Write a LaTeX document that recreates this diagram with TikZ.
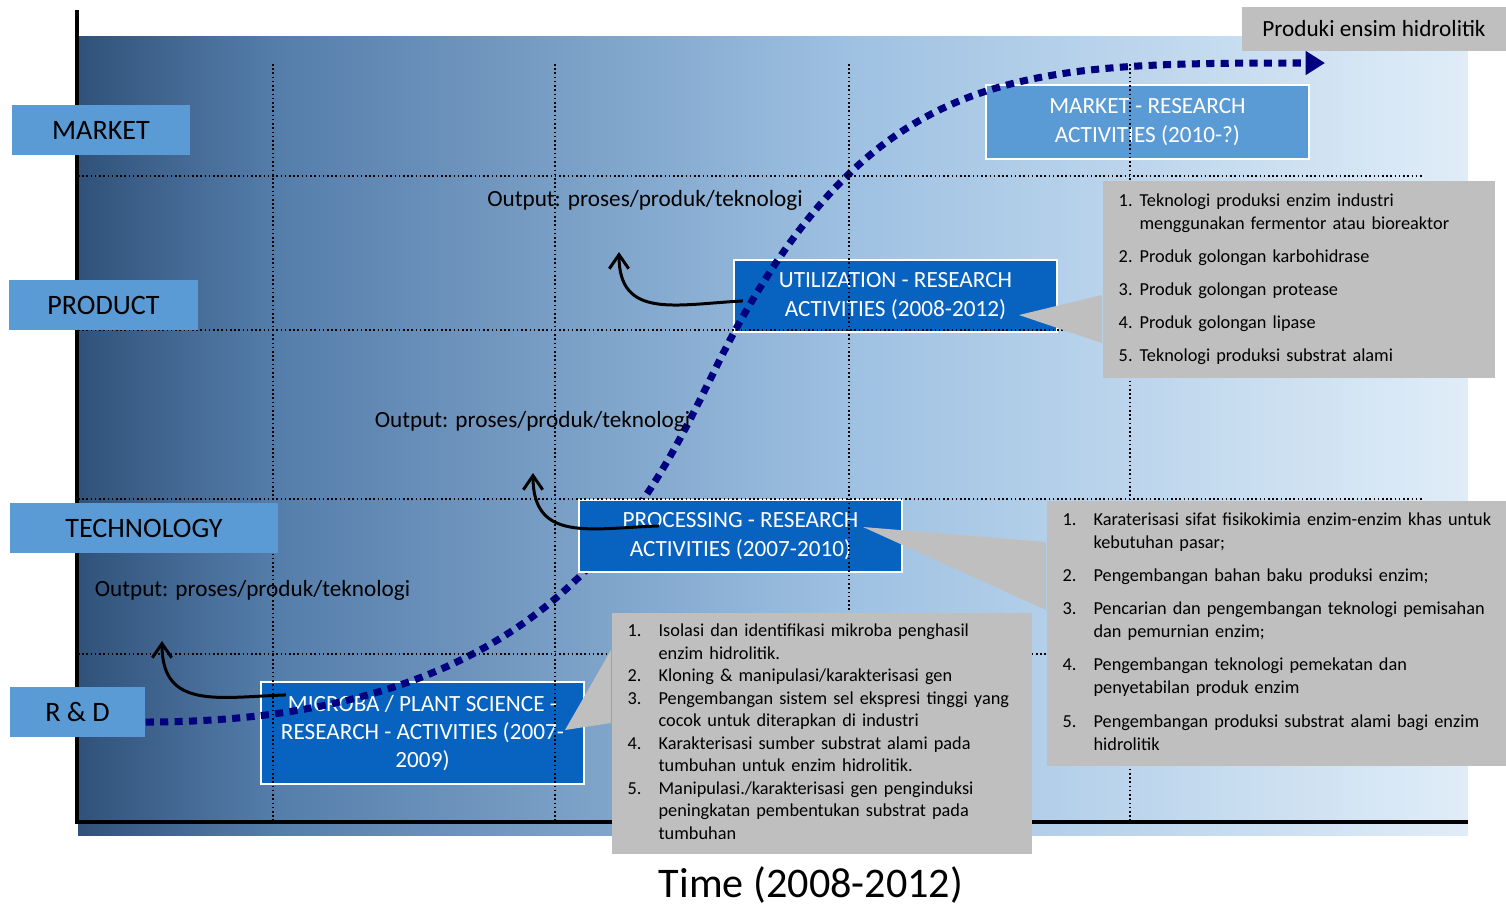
\documentclass[tikz,border=0pt]{standalone}
\usepackage{fontspec}
\setmainfont{Carlito}
\usetikzlibrary{arrows.meta}

\definecolor{lblue}{RGB}{91,155,213}
\definecolor{dblue}{RGB}{8,99,192}
\definecolor{cgrey}{RGB}{191,191,191}
\definecolor{trendblue}{RGB}{0,0,128}
\definecolor{bgA}{RGB}{48,82,122}
\definecolor{bgB}{RGB}{85,125,170}
\definecolor{bgD}{RGB}{158,193,226}
\definecolor{bgC}{RGB}{224,237,248}
\pgfdeclarehorizontalshading{bgfade}{100bp}{color(0bp)=(bgA); color(25bp)=(bgA); color(32bp)=(bgB); color(52.7bp)=(bgD); color(75bp)=(bgC); color(100bp)=(bgC)}

\pgfdeclarelayer{front}
\pgfsetlayers{main,front}

\newcommand{\boxfont}{\fontsize{6.6pt}{8pt}\selectfont}
\newcommand{\listfont}{\fontsize{5.2pt}{6.55pt}\selectfont}

\begin{document}
\begin{tikzpicture}[x=0.01cm, y=-0.01cm,
  lab/.style={fill=lblue, minimum height=0.5cm, inner sep=0pt, font=\fontsize{8pt}{9.6pt}\selectfont},
  act/.style={fill=dblue, draw=white, line width=0.6pt, text=white, align=center, minimum width=3.23cm, minimum height=0.72cm, inner sep=0pt, font=\boxfont},
  note/.style={fill=cgrey, inner xsep=0.16cm, inner ysep=0pt, font=\listfont, align=left, anchor=north west},
  gridline/.style={line width=0.45pt, dash pattern=on 0.45pt off 0.75pt},
  axis/.style={line width=1.2pt},
  trend/.style={trendblue, line width=2pt, dash pattern=on 2.3pt off 1.8pt, -{Triangle[length=5.5pt,width=6.5pt]}},
  outarrow/.style={line width=0.85pt, -{Straight Barb[length=4pt,width=5.5pt]}},
  output/.style={font=\boxfont, inner sep=0pt}]

\useasboundingbox (0,0) rectangle (1506,905);
\shade[shading=bgfade] (78,36) rectangle (1468,835);

\node[act, minimum height=1.02cm] (micro) at (422.5,733) {MICROBA / PLANT SCIENCE -\\RESEARCH - ACTIVITIES (2007-\\2009)};
\node[act] (util) at (895.5,296) {UTILIZATION - RESEARCH\\ACTIVITIES (2008-2012)};
\node[act, fill=lblue, minimum height=0.74cm] (mres) at (1147.5,122) {MARKET - RESEARCH\\ACTIVITIES (2010-?)};

\begin{pgfonlayer}{front}
\node[lab, minimum width=1.78cm] (mkt) at (101,130) {MARKET};
\node[lab, minimum width=1.89cm] (prd) at (103.5,305) {PRODUCT};
\node[lab, minimum width=2.68cm] (tech) at (144,528) {TECHNOLOGY};
\node[lab, minimum width=1.35cm] (rd) at (77.5,712) {R \& D};
\end{pgfonlayer}

\coordinate (bend) at (737,327);
\coordinate (goal) at (1325,63);
\draw[trend] ([yshift=-0.1cm]rd.east) .. controls (595,722) and (664,458) .. (bend)
  .. controls (883,64) and (1025,63) .. (goal);

\node[act] (proc) at (740.5,536) {PROCESSING - RESEARCH\\ACTIVITIES (2007-2010)};

\foreach \gx in {273,555,849,1130}
  \draw[gridline] (\gx,64) -- (\gx,822);
\foreach \gy in {176,330,499,654}
  \draw[gridline] (78,\gy) -- (1423,\gy);

\draw[axis] (77,10) -- (77,822) -- (1468,822);

\node[fill=cgrey, minimum width=2.64cm, minimum height=0.44cm, inner sep=0pt, font=\boxfont] (prodnote) at (1374,29) {Produki ensim hidrolitik};

\fill[cgrey] (1102,295) -- (1019,315) -- (1102,343) -- cycle;
\node[note, minimum height=1.97cm, text width=3.6cm] (ulist) at (1102,180) {\noindent\begin{tabular}{@{}l@{\hspace{0.07cm}}l@{}}
1. & Teknologi produksi enzim industri\\
   & menggunakan fermentor atau bioreaktor\\[2.85pt]
2. & Produk golongan karbohidrase\\[2.85pt]
3. & Produk golongan protease\\[2.85pt]
4. & Produk golongan lipase\\[2.85pt]
5. & Teknologi produksi substrat alami
\end{tabular}};

\fill[cgrey] (1046,542) -- (863,527) -- (1046,610) -- cycle;
\node[note, minimum height=2.65cm, text width=4.28cm] (plist) at (1046,500) {\noindent\begin{tabular}{@{}l@{\hspace{0.17cm}}l@{}}
1. & Karaterisasi sifat fisikokimia enzim-enzim khas untuk\\
   & kebutuhan pasar;\\[2.85pt]
2. & Pengembangan bahan baku produksi enzim;\\[2.85pt]
3. & Pencarian dan pengembangan teknologi pemisahan\\
   & dan pemurnian enzim;\\[2.85pt]
4. & Pengembangan teknologi pemekatan dan\\
   & penyetabilan produk enzim\\[2.85pt]
5. & Pengembangan produksi substrat alami bagi enzim\\
   & hidrolitik
\end{tabular}};

\fill[cgrey] (611,650) -- (565,730) -- (611,723) -- cycle;
\node[note, minimum height=2.41cm, text width=3.88cm, font=\fontsize{5.2pt}{6.4pt}\selectfont] (mlist) at (611,612) {\noindent\begin{tabular}{@{}l@{\hspace{0.17cm}}l@{}}
1. & Isolasi dan identifikasi mikroba penghasil\\
   & enzim hidrolitik.\\
2. & Kloning \& manipulasi/karakterisasi gen\\
3. & Pengembangan sistem sel ekspresi tinggi yang\\
   & cocok untuk diterapkan di industri\\
4. & Karakterisasi sumber substrat alami pada\\
   & tumbuhan untuk enzim hidrolitik.\\
5. & Manipulasi./karakterisasi gen penginduksi\\
   & peningkatan pembentukan substrat pada\\
   & tumbuhan
\end{tabular}};

\node[output] (out1) at (645,200) {Output: proses/produk/teknologi};
\node[output] (out2) at (532.5,421) {Output: proses/produk/teknologi};
\node[output] (out3) at (252.5,590) {Output: proses/produk/teknologi};

\coordinate (tip1) at (162,641);
\coordinate (tip2) at (533,473);
\coordinate (tip3) at (619,252);
\draw[outarrow] (micro.north west) ++(26,14) to[out=182,in=270,looseness=1.3] (tip1);
\draw[outarrow] (proc.north west) ++(81,27) to[out=182,in=270,looseness=1.3] (tip2);
\draw[outarrow] (util.north west) ++(10,42) to[out=183,in=270,looseness=1.3] (tip3);

\node[font=\fontsize{12pt}{14pt}\selectfont, inner sep=0pt] (time) at (811,885) {Time (2008-2012)};
\end{tikzpicture}
\end{document}
